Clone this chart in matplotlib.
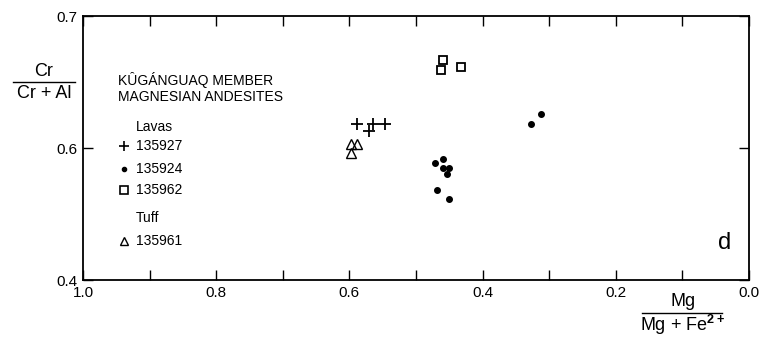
import numpy as np
import matplotlib.pyplot as plt
from matplotlib.lines import Line2D
from matplotlib.ticker import FixedLocator, FixedFormatter, MultipleLocator

plt.rcParams['font.family'] = ['Liberation Sans', 'DejaVu Sans']
plt.rcParams['mathtext.fontset'] = 'custom'
plt.rcParams['mathtext.rm'] = 'Liberation Sans'
plt.rcParams['mathtext.bf'] = 'Liberation Sans:bold'

# Mg/(Mg+Fe2+) vs Cr/(Cr+Al), Kuganguaq member magnesian andesites
x_135927 = [0.588, 0.571, 0.564, 0.547]
y_135927 = [0.618, 0.613, 0.618, 0.618]

x_135924 = [0.459, 0.471, 0.460, 0.451, 0.454, 0.468, 0.451, 0.327, 0.313]
y_135924 = [0.592, 0.589, 0.585, 0.585, 0.580, 0.568, 0.561, 0.618, 0.626]

x_135962 = [0.459, 0.462, 0.432]
y_135962 = [0.667, 0.659, 0.661]

x_135961 = [0.597, 0.589, 0.597]
y_135961 = [0.603, 0.603, 0.596]

ytick_vals = [0.5, 0.6, 0.7]
ytick_labels = ['0.4', '0.6', '0.7']
xtick_vals = [1.0, 0.8, 0.6, 0.4, 0.2, 0.0]
xtick_labels = ['1.0', '0.8', '0.6', '0.4', '0.2', '0.0']

fig = plt.figure(figsize=(7.64, 3.39), dpi=100)
ax = fig.add_axes([83/764, 1 - 280/339, (749 - 83)/764, (280 - 16)/339])

ax.plot(x_135927, y_135927, ls='none', marker='+', ms=8, mew=1.3, color='black')
ax.plot(x_135924, y_135924, ls='none', marker='o', ms=4, color='black')
ax.plot(x_135962, y_135962, ls='none', marker='s', ms=6, mew=1.3, mfc='white', mec='black')
ax.plot(x_135961, y_135961, ls='none', marker='^', ms=7.5, mew=1.0, mfc='none', mec='black')

ax.set_xlim(1.0, 0.0)
ax.set_ylim(0.5, 0.7)
ax.xaxis.set_major_locator(FixedLocator(xtick_vals))
ax.xaxis.set_major_formatter(FixedFormatter(xtick_labels))
ax.xaxis.set_minor_locator(MultipleLocator(0.1))
ax.yaxis.set_major_locator(FixedLocator(ytick_vals))
ax.yaxis.set_major_formatter(FixedFormatter(ytick_labels))
ax.tick_params(which='both', direction='in', top=True, right=True, length=7,
               width=1, labelsize=11, pad=4)
for s in ax.spines.values():
    s.set_linewidth(1.3)

# legend block, written as text
fs = 10
fig.text(118/764, 1 - 80/339, 'KÛGÁNGUAQ MEMBER', fontsize=fs, va='center')
fig.text(118/764, 1 - 97/339, 'MAGNESIAN ANDESITES', fontsize=fs, va='center')
fig.text(136/764, 1 - 127/339, 'Lavas', fontsize=fs, va='center')
fig.text(136/764, 1 - 218/339, 'Tuff', fontsize=fs, va='center')
rows = [(146, '+', '135927', dict(ms=7, mew=1.2, color='black')),
        (169, 'o', '135924', dict(ms=3, color='black')),
        (190, 's', '135962', dict(ms=5.5, mew=1.2, mfc='white', mec='black')),
        (241, '^', '135961', dict(ms=6, mew=1.0, mfc='none', mec='black'))]
for yy, m, lab, kw in rows:
    fig.add_artist(Line2D([124/764], [1 - yy/339], marker=m, ls='none',
                          transform=fig.transFigure, **kw))
    fig.text(136/764, 1 - yy/339, lab, fontsize=fs, va='center')

fig.text(725/764, 1 - 243/339, 'd', fontsize=17, ha='center', va='center')

# y label fraction
fig.text(44/764, 1 - 72/339, 'Cr', fontsize=13, ha='center', va='center')
fig.add_artist(Line2D([13/764, 75/764], [1 - 82/339, 1 - 82/339], color='black',
                      lw=1, transform=fig.transFigure))
fig.text(44/764, 1 - 93/339, 'Cr + Al', fontsize=13, ha='center', va='center')

# x label fraction
fig.text(683/764, 1 - 302/339, 'Mg', fontsize=13, ha='center', va='center')
fig.add_artist(Line2D([642/764, 722/764], [1 - 313/339, 1 - 313/339], color='black',
                      lw=1, transform=fig.transFigure))
fig.text(683/764, 1 - 325/339, r'Mg + Fe$^{\mathbf{2+}}$', fontsize=13, ha='center', va='center')

fig.savefig('out.png', dpi=100)
